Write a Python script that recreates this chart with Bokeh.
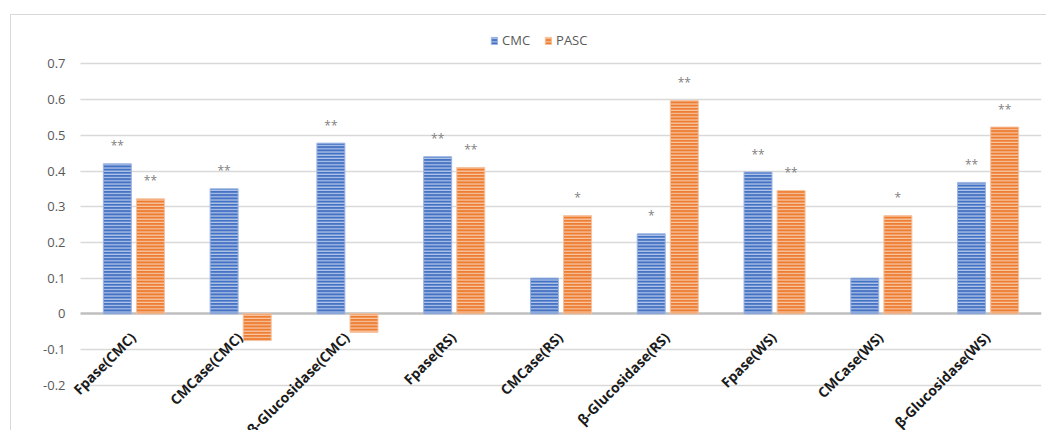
import math
from bokeh.plotting import figure
from bokeh.models import (ColumnDataSource, Range1d, FixedTicker, Grid,
                          Legend, LegendItem, CustomJSTickFormatter)
from bokeh.core.properties import value
from bokeh.embed import file_html
from bokeh.resources import INLINE

categories = ["Fpase(CMC)", "CMCase(CMC)", "β-Glucosidase(CMC)",
              "Fpase(RS)", "CMCase(RS)", "β-Glucosidase(RS)",
              "Fpase(WS)", "CMCase(WS)", "β-Glucosidase(WS)"]
cmc_values = [0.420, 0.350, 0.478, 0.440, 0.100, 0.224, 0.397, 0.100, 0.368]
pasc_values = [0.322, -0.075, -0.052, 0.410, 0.275, 0.597, 0.345, 0.275, 0.523]
cmc_sig = ["**", "**", "**", "**", "", "*", "**", "", "**"]
pasc_sig = ["**", "", "", "**", "*", "**", "**", "*", "**"]
y_ticks = [-0.2, -0.1, 0.0, 0.1, 0.2, 0.3, 0.4, 0.5, 0.6, 0.7]

idx = list(range(len(categories)))
DODGE = 0.155
src = ColumnDataSource(dict(cat=categories, idx=idx,
                            x_cmc=[i - DODGE for i in idx], x_pasc=[i + DODGE for i in idx],
                            cmc=cmc_values, pasc=pasc_values,
                            cmc_sig=cmc_sig, pasc_sig=pasc_sig,
                            zero=[0.0] * len(categories)))

W, H = 1036, 416
n = len(categories)
p = figure(x_range=Range1d(-0.6124, n - 0.5), y_range=Range1d(-0.3297, 0.8356),
           width=W, height=H, output_backend="svg", toolbar_location=None,
           x_axis_location=None, min_border_left=57, min_border_right=6,
           min_border_top=0, min_border_bottom=0)
p.margin = (14, 0, 0, 10)
p.styles = {"border-top": "1px solid #d9d9d9", "border-left": "1px solid #d9d9d9"}
p.outline_line_color = None
p.background_fill_color = "white"
p.border_fill_color = "white"
p.xgrid.grid_line_color = None

FONT = value("Open Sans")

# y axis
p.yaxis.ticker = FixedTicker(ticks=y_ticks)
p.yaxis.formatter = CustomJSTickFormatter(code="return Math.abs(tick) < 1e-9 ? '0' : tick.toFixed(1);")
p.yaxis.axis_line_color = None
p.yaxis.major_tick_line_color = None
p.yaxis.minor_tick_line_color = None
p.yaxis.major_label_text_font = "Open Sans"
p.yaxis.major_label_text_font_size = "13px"
p.yaxis.major_label_text_color = "#595959"
p.yaxis.major_label_standoff = -3

has_cb = hasattr(Grid, "cross_bounds")
p.ygrid.ticker = FixedTicker(ticks=[t for t in y_ticks if abs(t) > 1e-9])
p.ygrid.grid_line_color = "#d9d9d9"
p.ygrid.grid_line_width = 1.5
zero_grid = Grid(dimension=1, ticker=FixedTicker(ticks=[0.0]),
                 grid_line_color="#bfbfbf", grid_line_width=2.5)
if has_cb:
    p.ygrid.cross_bounds = (-0.5, n - 0.5)
    zero_grid.cross_bounds = (-0.5, n - 0.5)
p.add_layout(zero_grid)

bw = 0.262
r1 = p.vbar(x="x_cmc", top="cmc", bottom=0, width=bw, source=src,
            fill_color="#4472C4", line_color="#9db5e3", line_width=1,
            hatch_pattern="horizontal_line", hatch_color="#dfe7f6", hatch_alpha=0.75,
            hatch_scale=3.2, hatch_weight=1.2)
r2 = p.vbar(x="x_pasc", top="pasc", bottom=0, width=bw, source=src,
            fill_color="#ED7D31", line_color="#f6c3a0", line_width=1,
            hatch_pattern="horizontal_line", hatch_color="#fbe2d2", hatch_alpha=0.75,
            hatch_scale=3.2, hatch_weight=1.2)

# significance marks
p.text(x="x_cmc", y="cmc", text="cmc_sig", source=src,
       text_align="center", text_baseline="middle", y_offset=-18,
       text_font=FONT, text_font_size="12px", text_color="#7f7f7f")
p.text(x="x_pasc", y="pasc", text="pasc_sig", source=src,
       text_align="center", text_baseline="middle", y_offset=-18,
       text_font=FONT, text_font_size="12px", text_color="#7f7f7f")

# category labels, rotated
p.text(x="idx", y="zero", text="cat", source=src, angle=math.pi / 4,
       text_align="right", text_baseline="middle", x_offset=-1, y_offset=21,
       text_font=FONT, text_font_style="bold", text_font_size="14px", text_color="#1a1a1a")

legend = Legend(items=[LegendItem(label="CMC", renderers=[r1]),
                       LegendItem(label="PASC", renderers=[r2])],
                orientation="horizontal", location=(422, 382),
                border_line_color=None, background_fill_alpha=0,
                label_text_font="Open Sans", label_text_font_size="13px",
                label_text_color="#595959", glyph_width=8, glyph_height=9,
                label_standoff=4, spacing=14, padding=4, margin=0)
p.add_layout(legend, "center")

open("out.html", "w").write(file_html(p, INLINE))
